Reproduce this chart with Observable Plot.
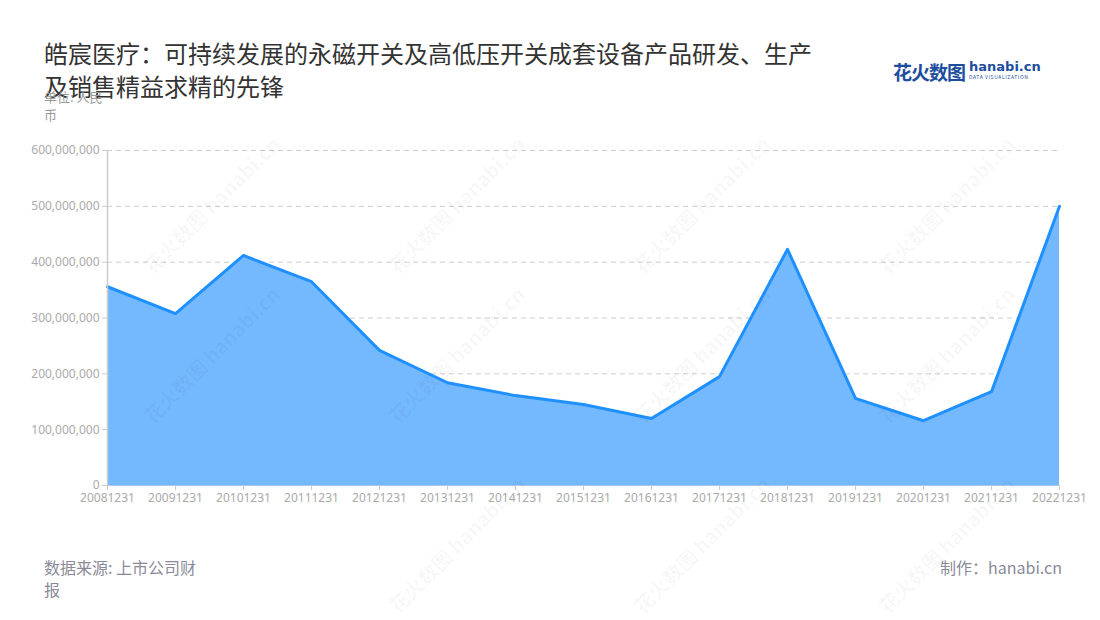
<!DOCTYPE html>
<html><head><meta charset="utf-8">
<script src="https://cdn.jsdelivr.net/npm/d3@7"></script>
<script src="https://cdn.jsdelivr.net/npm/@observablehq/plot@0.6"></script>
<style>
body{margin:0;background:#fff;font-family:"Noto Sans CJK SC","Noto Sans",sans-serif;}
#wrap{position:relative;width:1100px;height:620px;overflow:hidden;}
#title{position:absolute;left:44px;top:36px;width:820px;font-size:24px;line-height:33px;color:#333;}
#unit{position:absolute;left:44px;top:88px;width:70px;font-size:13px;line-height:18px;color:#999;}
#src{position:absolute;left:44px;top:556px;width:162px;font-size:16px;line-height:22px;color:#8a8a99;}
#made{position:absolute;right:38px;top:556px;font-size:16px;line-height:22px;color:#8a8a99;}
#logo{position:absolute;left:893px;top:58px;display:flex;align-items:center;}
#logo .cn{font-size:19px;font-weight:bold;color:#1d4e9e;letter-spacing:-1px;}
#logo .en{margin-left:4px;line-height:10px;}
#logo .en b{display:block;font-family:"DejaVu Sans";font-size:13px;color:#1d4e9e;}
#logo .en i{display:block;font-style:normal;font-size:5px;color:#1d4e9e;letter-spacing:0.6px;}
#chart{position:absolute;left:0;top:0;}
.wm{position:absolute;color:rgba(0,0,0,0.035);font-size:20px;font-weight:bold;transform:rotate(-45deg);white-space:nowrap;pointer-events:none;}
</style></head><body>
<div id="wrap">
<div id="chart"></div>
<div id="title">皓宸医疗：可持续发展的永磁开关及高低压开关成套设备产品研发、生产<br>及销售精益求精的先锋</div>
<div id="unit">单位: 人民币</div>
<div id="logo"><span class="cn">花火数图</span><span class="en"><b>hanabi.cn</b><i>DATA VISUALIZATION</i></span></div>
<div id="src">数据来源: 上市公司财报</div>
<div id="made">制作：hanabi.cn</div>
</div>
<script>
const dates = ["20081231","20091231","20101231","20111231","20121231","20131231","20141231","20151231","20161231","20171231","20181231","20191231","20201231","20211231","20221231"];
const values = [356000000,308000000,412000000,365000000,242000000,184000000,161000000,145000000,120000000,195000000,423000000,156000000,116000000,168000000,500000000];
const yTicks = [0,100000000,200000000,300000000,400000000,500000000,600000000];

const data = dates.map((d,i)=>({date:d, value:values[i]}));

const chart = Plot.plot({
  width:1100, height:620,
  marginLeft:107, marginRight:41, marginTop:150, marginBottom:135,
  style:{fontFamily:"'Noto Sans', sans-serif", fontSize:"12px", color:"#aaa", background:"transparent"},
  x:{type:"point", domain:dates, padding:0, label:null},
  y:{domain:[0,600000000], ticks:yTicks, label:null, tickFormat:d3.format(",")},
  marks:[
    Plot.gridY(yTicks.slice(1), {stroke:"#ccc", strokeOpacity:1, strokeDasharray:"5,4"}),
    Plot.areaY(data, {x:"date", y:"value", fill:"#74b8fd", fillOpacity:1}),
    Plot.lineY(data, {x:"date", y:"value", stroke:"#1e90ff", strokeWidth:3}),
    Plot.ruleX([dates[0]], {stroke:"#ccc", strokeWidth:1.5, y1:0, y2:600000000}),
    Plot.ruleY([0], {stroke:"#a8c8ee", strokeWidth:1}),
    Plot.axisY({ticks:yTicks, tickSize:5, tickPadding:3, stroke:"#ccc", tickFormat:d3.format(","), fill:"#aaa"}),
    Plot.axisX({tickSize:5, tickPadding:3, stroke:"#ccc", fill:"#aaa"})
  ]
});
document.getElementById("chart").appendChild(chart);

// faint watermarks
const wrap = document.getElementById("wrap");
const pos = [[120,190],[365,190],[610,190],[855,190],[120,340],[365,340],[610,340],[855,340],[365,530],[610,530],[855,530]];
pos.forEach(([x,y])=>{
  const w = document.createElement("div");
  w.className="wm"; w.style.left=x+"px"; w.style.top=y+"px";
  w.textContent="花火数图 hanabi.cn";
  wrap.appendChild(w);
});
</script>
</body></html>
